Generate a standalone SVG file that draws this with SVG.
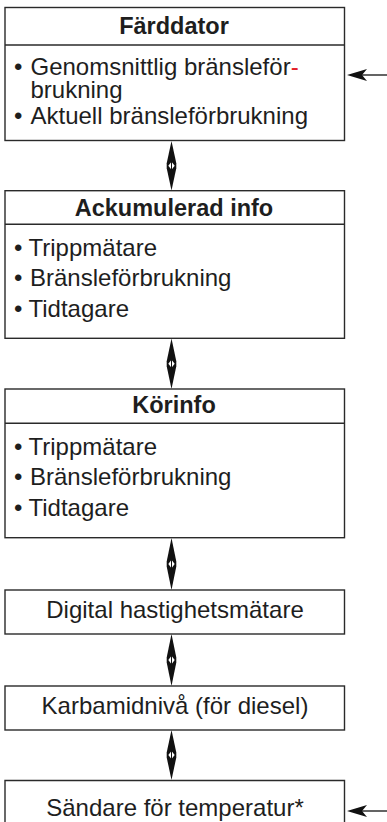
<svg xmlns="http://www.w3.org/2000/svg" width="387" height="822" viewBox="0 0 387 822">
<style>
.box{fill:#fff;stroke:#2a2a2a;stroke-width:1.4}
.sep{stroke:#2a2a2a;stroke-width:1.4}
text{font-family:"Liberation Sans",Arial,Helvetica,sans-serif;font-size:24px;fill:#1e1e1e}
.t{font-weight:bold;text-anchor:middle;font-size:23.5px}
.c{text-anchor:middle}
.red{fill:#e32028}
</style>
<defs>
<g id="dbl">
<path d="M0,0 L4.8,22.5 L4.8,27.5 L0,50 L-4.8,27.5 L-4.8,22.5 Z" fill="#111"/>
<path d="M0,21 L3.2,25 L0,29 L-3.2,25 Z" fill="#fff"/>
<line x1="0" y1="20.5" x2="0" y2="29.5" stroke="#111" stroke-width="1"/>
</g>
<g id="inarr">
<line x1="14" y1="0" x2="40" y2="0" stroke="#222" stroke-width="1.4"/>
<path d="M0,0 L20,-6 L15,0 L20,6 Z" fill="#111"/>
</g>
</defs>

<g id="connectors">
<use href="#dbl" transform="translate(171.5,141) scale(1,0.99)"/>
<use href="#dbl" transform="translate(171.5,338.5) scale(1,1.01)"/>
<use href="#dbl" transform="translate(171.5,538) scale(1,1.04)"/>
<use href="#dbl" transform="translate(171.5,634) scale(1,1.04)"/>
<use href="#dbl" transform="translate(171.5,730) scale(1,1)"/>
<use href="#inarr" transform="translate(347,75)"/>
<use href="#inarr" transform="translate(347,811)"/>
</g>

<g id="farddator">
<rect class="box" x="5" y="7.5" width="339.5" height="133"/>
<line class="sep" x1="5" y1="45" x2="344.5" y2="45"/>
<text class="t" x="174" y="33.5">Färddator</text>
<text x="14" y="75">•</text><text x="30.5" y="75">Genomsnittlig bränsleför<tspan class="red">-</tspan></text>
<text x="30.5" y="98">brukning</text>
<text x="14" y="123.5">•</text><text x="30.5" y="123.5">Aktuell bränsleförbrukning</text>
</g>

<g id="ackumulerad">
<rect class="box" x="5" y="190.7" width="339.5" height="147.6"/>
<line class="sep" x1="5" y1="224.3" x2="344.5" y2="224.3"/>
<text class="t" x="174" y="216">Ackumulerad info</text>
<text x="14" y="256">•</text><text x="28.5" y="256">Trippmätare</text>
<text x="14" y="286">•</text><text x="30" y="286">Bränsleförbrukning</text>
<text x="14" y="316.5">•</text><text x="28.5" y="316.5">Tidtagare</text>
</g>

<g id="korinfo">
<rect class="box" x="5" y="389" width="339.5" height="148.7"/>
<line class="sep" x1="5" y1="423.3" x2="344.5" y2="423.3"/>
<text class="t" x="174" y="412.7">Körinfo</text>
<text x="14" y="455">•</text><text x="28.5" y="455">Trippmätare</text>
<text x="14" y="485">•</text><text x="30" y="485">Bränsleförbrukning</text>
<text x="14" y="515.5">•</text><text x="28.5" y="515.5">Tidtagare</text>
</g>

<g id="digital">
<rect class="box" x="5" y="590" width="339.5" height="44"/>
<text class="c" x="175" y="618">Digital hastighetsmätare</text>
</g>

<g id="karbamid">
<rect class="box" x="5" y="686" width="339.5" height="44"/>
<text class="c" x="175" y="714">Karbamidnivå (för diesel)</text>
</g>

<g id="sandare">
<path class="box" d="M5,830 L5,780.5 L344.5,780.5 L344.5,830"/>
<text class="c" x="175" y="815.5">Sändare för temperatur*</text>
</g>
</svg>
